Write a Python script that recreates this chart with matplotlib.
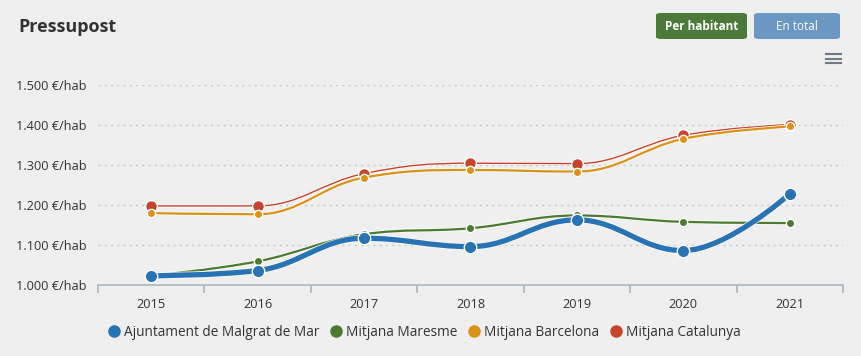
import matplotlib
matplotlib.use("Agg")
import matplotlib.pyplot as plt
from matplotlib.path import Path
from matplotlib.patches import PathPatch, FancyBboxPatch
import matplotlib.patheffects as pe
import numpy as np

years = ["2015", "2016", "2017", "2018", "2019", "2020", "2021"]
malgrat = [1022, 1035, 1116, 1095, 1162, 1085, 1227]
maresme = [1022, 1058, 1126, 1141, 1173, 1157, 1154]
barcelona = [1179, 1176, 1268, 1287, 1283, 1365, 1396]
catalunya = [1197, 1197, 1278, 1304, 1303, 1374, 1401]
series_names = ["Ajuntament de Malgrat de Mar", "Mitjana Maresme", "Mitjana Barcelona", "Mitjana Catalunya"]
yticks = [1000, 1100, 1200, 1300, 1400, 1500]

plt.rcParams['font.family'] = ['Open Sans', 'DejaVu Sans']
BG = "#efefef"
TXT = "#333333"

fig = plt.figure(figsize=(8.61, 3.56), dpi=100, facecolor=BG)
W, H = 861, 356
ax = fig.add_axes([98 / W, 1 - 284.5 / H, (843 - 98) / W, (284.5 - 85) / H])
ax.set_facecolor(BG)


def spline_path(xs, ys, smoothing=1.5):
    denom = smoothing + 1
    n = len(xs)
    rc = [None] * n
    lc = [None] * n
    verts = [(xs[0], ys[0])]
    codes = [Path.MOVETO]
    for i in range(n):
        px, py = xs[i], ys[i]
        if 0 < i < n - 1:
            lx, ly = xs[i - 1], ys[i - 1]
            nx, ny = xs[i + 1], ys[i + 1]
            lcx = (smoothing * px + lx) / denom
            lcy = (smoothing * py + ly) / denom
            rcx = (smoothing * px + nx) / denom
            rcy = (smoothing * py + ny) / denom
            corr = 0
            if rcx != lcx:
                corr = ((rcy - lcy) * (rcx - px)) / (rcx - lcx) + py - rcy
            lcy += corr
            rcy += corr
            if lcy > ly and lcy > py:
                lcy = max(ly, py); rcy = 2 * py - lcy
            elif lcy < ly and lcy < py:
                lcy = min(ly, py); rcy = 2 * py - lcy
            if rcy > ny and rcy > py:
                rcy = max(ny, py); lcy = 2 * py - rcy
            elif rcy < ny and rcy < py:
                rcy = min(ny, py); lcy = 2 * py - rcy
            lc[i] = (lcx, lcy)
            rc[i] = (rcx, rcy)
    for i in range(1, n):
        c1 = rc[i - 1] if rc[i - 1] is not None else (xs[i - 1], ys[i - 1])
        c2 = lc[i] if lc[i] is not None else (xs[i], ys[i])
        verts += [c1, c2, (xs[i], ys[i])]
        codes += [Path.CURVE4] * 3
    return Path(verts, codes)


xs = np.arange(len(years))
cols = ["#2873b3", "#4b7a30", "#d99216", "#c8432b"]
specs = [
    (catalunya, cols[3], 1.0, 8.5, 3),
    (barcelona, cols[2], 1.6, 6.0, 4),
    (maresme, cols[1], 1.6, 6.0, 5),
    (malgrat, cols[0], 3.8, 9.0, 6),
]
for vals, col, lw, ms, z in specs:
    p = spline_path(list(xs.astype(float)), list(map(float, vals)))
    patch = PathPatch(p, facecolor="none", edgecolor=col, lw=lw, zorder=z,
                      capstyle="round", joinstyle="round")
    patch.set_path_effects([pe.Stroke(linewidth=lw + 1.2, foreground="white", alpha=0.8), pe.Normal()])
    ax.add_patch(patch)
    ax.plot(xs, vals, ls="none", marker="o", ms=ms, mfc=col, mec="white", mew=1.0, zorder=z + 0.5)

ax.set_xlim(-0.5, len(years) - 0.5)
ax.set_ylim(1000, 1500)
ax.set_yticks(yticks)
ax.set_yticklabels([f"{v // 1000}.{v % 1000:03d} €/hab" for v in yticks], color=TXT, fontsize=9.2)
ax.tick_params(axis="y", length=0, pad=8)
ax.set_xticks(xs)
ax.set_xticklabels(years, color=TXT, fontsize=9.2)
ax.set_xticks(np.arange(-0.5, len(years)), minor=True)
ax.tick_params(axis="x", which="major", length=0, pad=10)
ax.tick_params(axis="x", which="minor", length=6, color="#aab6c0", width=1.2)
ax.grid(axis="y", color="#c8c8c8", ls=(0, (1.5, 3)), lw=1.0, zorder=0)
for s in ["top", "right", "left"]:
    ax.spines[s].set_visible(False)
ax.spines["bottom"].set_color("#aab6c0")
ax.spines["bottom"].set_linewidth(1.2)

# title
fig.text(18 / W, 1 - 27 / H, "Pressupost", fontsize=13, fontweight="bold", color=TXT, va="center", ha="left")

# buttons
def button(x0, x1, y0, y1, col, label, bold):
    b = FancyBboxPatch((x0 / W, 1 - y1 / H), (x1 - x0) / W, (y1 - y0) / H,
                       boxstyle="round,pad=0,rounding_size=0.006", transform=fig.transFigure,
                       facecolor=col, edgecolor="none")
    fig.patches.append(b)
    fig.text((x0 + x1) / 2 / W, 1 - (y0 + y1) / 2 / H, label, color="white", fontsize=8.5,
             fontweight="bold" if bold else "normal", ha="center", va="center")

button(656, 747, 13, 39, "#4c7a3a", "Per habitant", True)
button(754, 840, 13, 39, "#6b97c3", "En total", False)

# hamburger
for yy in [54, 58.5, 63]:
    fig.lines.append(plt.Line2D([826 / W, 841 / W], [1 - yy / H] * 2, transform=fig.transFigure,
                                color="#6f7b87", lw=1.5))

# legend
from matplotlib.lines import Line2D
lh = [Line2D([], [], ls="none", marker="o", ms=8, mfc=c, mec=c) for c in cols]
fig.legend(lh, series_names, loc="center", bbox_to_anchor=(425 / W, 1 - 332 / H), ncol=4,
           frameon=False, fontsize=9.8, handlelength=0.7, handletextpad=0.35, columnspacing=0.9,
           labelcolor=TXT)

fig.savefig("out.png", dpi=100, facecolor=BG)
